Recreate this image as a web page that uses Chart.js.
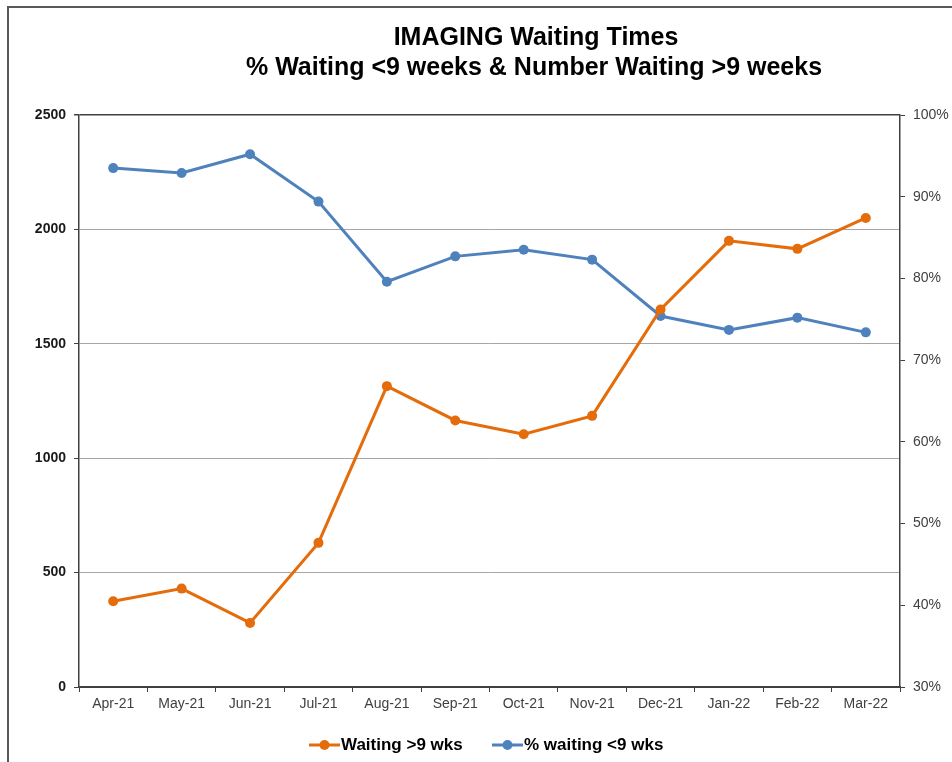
<!DOCTYPE html>
<html>
<head>
<meta charset="utf-8">
<title>IMAGING Waiting Times</title>
<script src="https://cdn.jsdelivr.net/npm/chart.js@4/dist/chart.umd.min.js"></script>
<style>
    html, body { margin: 0; padding: 0; background: #fff; }
    canvas { display: block; }
</style>
</head>
<body>
<canvas id="waitChart" width="952" height="762"></canvas>
<script>
// Data
const months = ['Apr-21', 'May-21', 'Jun-21', 'Jul-21', 'Aug-21', 'Sep-21', 'Oct-21', 'Nov-21', 'Dec-21', 'Jan-22', 'Feb-22', 'Mar-22'];
const waitingOver9 = [375, 430, 280, 630, 1315, 1165, 1105, 1185, 1650, 1950, 1915, 2050];
const pctUnder9 = [93.5, 92.9, 95.2, 89.4, 79.6, 82.7, 83.5, 82.3, 75.4, 73.7, 75.2, 73.4];
const countTicks = [0, 500, 1000, 1500, 2000, 2500];
const pctTicks = [30, 40, 50, 60, 70, 80, 90, 100];
const titleLines = ['IMAGING Waiting Times', '% Waiting <9 weeks & Number Waiting >9 weeks'];

const ORANGE = '#E46C0A';
const BLUE = '#4F81BD';
const AXIS = '#404040';
const GRID = '#A6A6A6';
const FONT = '"Liberation Sans", Arial, sans-serif';

// frame, title and legend drawn around the library's chart area
const decorations = {
    id: 'decorations',
    beforeDraw(chart) {
        const ctx = chart.ctx;
        ctx.save();
        ctx.fillStyle = '#fff';
        ctx.fillRect(0, 0, chart.width, chart.height);
        ctx.strokeStyle = '#595959';
        ctx.lineWidth = 2;
        ctx.beginPath();
        ctx.moveTo(8, chart.height);
        ctx.lineTo(8, 7);
        ctx.lineTo(chart.width, 7);
        ctx.stroke();
        ctx.restore();
    },
    afterDraw(chart) {
        const ctx = chart.ctx;
        ctx.save();
        // title
        ctx.fillStyle = '#000';
        ctx.font = 'bold 25px ' + FONT;
        ctx.textAlign = 'center';
        ctx.textBaseline = 'middle';
        ctx.fillText(titleLines[0], 536, 38);
        ctx.fillText(titleLines[1], 534, 68);

        // legend
        const items = [
            { x: 309, ds: chart.data.datasets[0] },
            { x: 492, ds: chart.data.datasets[1] }
        ];
        const y = 745;
        items.forEach(it => {
            ctx.strokeStyle = it.ds.borderColor;
            ctx.lineWidth = 3;
            ctx.beginPath();
            ctx.moveTo(it.x, y);
            ctx.lineTo(it.x + 31, y);
            ctx.stroke();
            ctx.fillStyle = it.ds.borderColor;
            ctx.beginPath();
            ctx.arc(it.x + 15.5, y, 5, 0, Math.PI * 2);
            ctx.fill();
            ctx.fillStyle = '#000';
            ctx.font = 'bold 17px ' + FONT;
            ctx.textAlign = 'left';
            ctx.fillText(it.ds.label, it.x + 32, y);
        });
        ctx.restore();
    }
};

const ctx = document.getElementById('waitChart').getContext('2d');
const chart = new Chart(ctx, {
    type: 'line',
    data: {
        labels: months,
        datasets: [
            {
                label: 'Waiting >9 wks',
                data: waitingOver9,
                yAxisID: 'y',
                borderColor: ORANGE,
                backgroundColor: ORANGE,
                borderWidth: 3,
                pointRadius: 5,
                pointBorderWidth: 0,
                tension: 0
            },
            {
                label: '% waiting <9 wks',
                data: pctUnder9,
                yAxisID: 'y1',
                borderColor: BLUE,
                backgroundColor: BLUE,
                borderWidth: 3,
                pointRadius: 5,
                pointBorderWidth: 0,
                tension: 0
            }
        ]
    },
    options: {
        responsive: false,
        animation: false,
        events: [],
        layout: { padding: { top: 115, left: 19, right: 0, bottom: 45 } },
        plugins: {
            legend: { display: false },
            title: { display: false },
            tooltip: { enabled: false }
        },
        scales: {
            x: {
                offset: true,
                afterFit: (s) => { s.height = 30; },
                grid: { offset: true, drawOnChartArea: false, color: AXIS, tickLength: 5 },
                border: { color: AXIS, width: 1.5 },
                ticks: {
                    padding: 4,
                    maxRotation: 0,
                    color: AXIS,
                    font: { family: FONT, size: 14 }
                }
            },
            y: {
                position: 'left',
                min: countTicks[0],
                max: countTicks[countTicks.length - 1],
                afterFit: (s) => { s.width = 60; },
                afterBuildTicks: (s) => { s.ticks = countTicks.map(v => ({ value: v })); },
                grid: {
                    color: (c) => (c.tick && (c.tick.value === 2500 || c.tick.value === 0)) ? AXIS : GRID,
                    lineWidth: (c) => (c.tick && c.tick.value === 2500) ? 1.5 : 1,
                    tickColor: AXIS,
                    tickLength: 5
                },
                border: { color: AXIS, width: 1.5 },
                ticks: {
                    padding: 8,
                    color: '#1a1a1a',
                    font: { family: FONT, size: 14, weight: 'bold' },
                    callback: (v) => String(v)
                }
            },
            y1: {
                position: 'right',
                min: pctTicks[0],
                max: pctTicks[pctTicks.length - 1],
                afterFit: (s) => { s.width = 52; },
                afterBuildTicks: (s) => { s.ticks = pctTicks.map(v => ({ value: v })); },
                grid: { drawOnChartArea: false, color: AXIS, tickLength: 5 },
                border: { color: AXIS, width: 1.5 },
                ticks: {
                    padding: 8,
                    color: AXIS,
                    font: { family: FONT, size: 14 },
                    callback: (v) => v + '%'
                }
            }
        }
    },
    plugins: [decorations]
});
</script>
</body>
</html>
